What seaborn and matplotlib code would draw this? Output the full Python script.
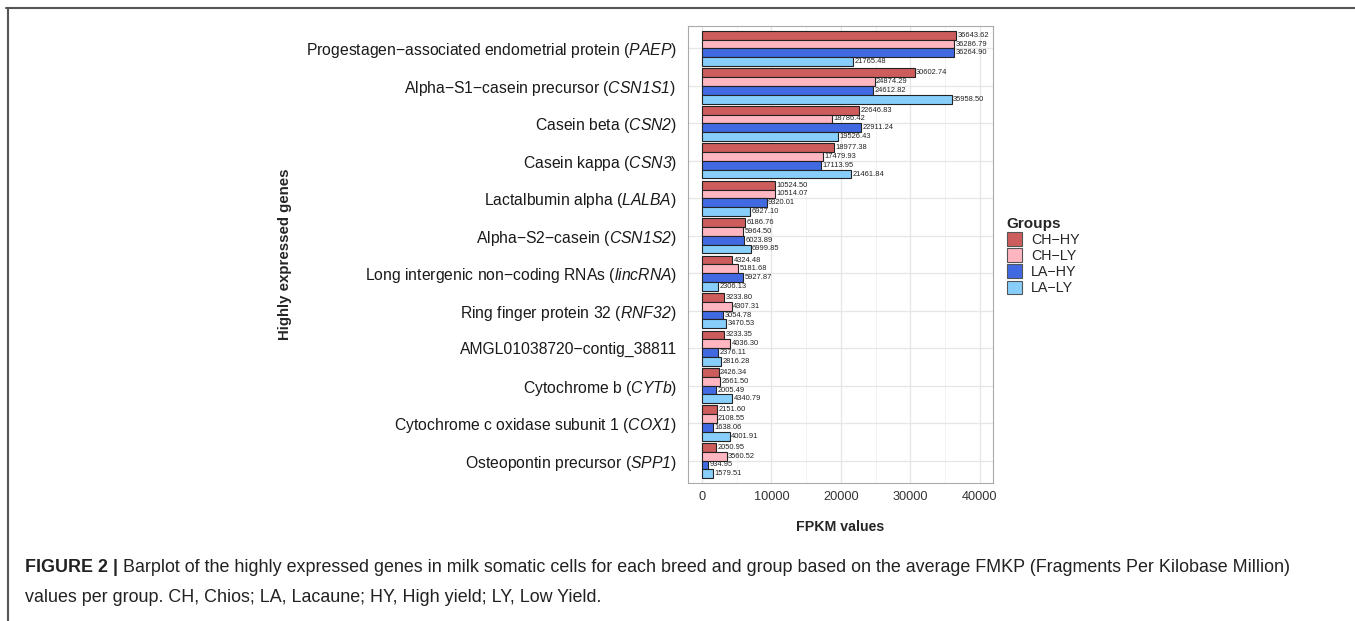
import pandas as pd
import matplotlib.pyplot as plt
import matplotlib.lines as mlines
import matplotlib.patches as mpatches
import seaborn as sns

# Gene labels (top to bottom) and mean FPKM per group
genes = [
    "Progestagen\u2212associated endometrial protein ($\\mathsf{PAEP}$)",
    "Alpha\u2212S1\u2212casein precursor ($\\mathsf{CSN1S1}$) ",
    "Casein beta ($\\mathsf{CSN2}$)",
    "Casein kappa ($\\mathsf{CSN3}$)",
    "Lactalbumin alpha ($\\mathsf{LALBA}$)",
    "Alpha\u2212S2\u2212casein ($\\mathsf{CSN1S2}$)",
    "Long intergenic non\u2212coding RNAs ($\\mathsf{lincRNA}$)",
    "Ring finger protein 32 ($\\mathsf{RNF32}$)",
    "AMGL01038720\u2212contig_38811",
    "Cytochrome b ($\\mathsf{CYTb}$)",
    "Cytochrome c oxidase subunit 1 ($\\mathsf{COX1}$)",
    "Osteopontin precursor ($\\mathsf{SPP1}$)",
]
groups = ["CH\u2212HY", "CH\u2212LY", "LA\u2212HY", "LA\u2212LY"]
ch_hy = [36643.62, 30602.74, 22646.83, 18977.38, 10524.50, 6186.76,
         4324.48, 3233.80, 3233.35, 2426.34, 2151.60, 2050.95]
ch_ly = [36286.79, 24874.29, 18786.42, 17479.93, 10514.07, 5964.50,
         5181.68, 4307.31, 4036.30, 2661.50, 2108.55, 3560.52]
la_hy = [36264.90, 24612.82, 22911.24, 17113.95, 9320.01, 6023.89,
         5927.87, 3054.78, 2376.11, 2005.49, 1638.06, 934.95]
la_ly = [21765.48, 35958.50, 19526.43, 21461.84, 6927.10, 6999.85,
         2306.13, 3470.53, 2816.28, 4340.79, 4001.91, 1579.51]
colors = ["#CD5C5C", "#FFB6C1", "#4169E1", "#87CEFA"]

df = pd.DataFrame({"Gene": genes, groups[0]: ch_hy, groups[1]: ch_ly,
                   groups[2]: la_hy, groups[3]: la_ly})
df_long = df.melt(id_vars="Gene", var_name="Group", value_name="FPKM")

sns.set_theme(style="whitegrid")
plt.rcParams["font.family"] = ["Liberation Sans", "DejaVu Sans"]
plt.rcParams["mathtext.fontset"] = "custom"
plt.rcParams["mathtext.rm"] = "Liberation Sans"
plt.rcParams["mathtext.sf"] = "Liberation Sans:italic"

fig = plt.figure(figsize=(13.55, 6.21), dpi=100)
ax = fig.add_axes([688 / 1355, 1 - 483 / 621, (993 - 688) / 1355, (483 - 26) / 621])

sns.barplot(data=df_long, y="Gene", x="FPKM", hue="Group", order=genes,
            hue_order=groups, palette=colors, orient="h", width=0.94,
            edgecolor="#222222", linewidth=0.8, saturation=1, ax=ax,
            legend=False)

for c in ax.containers:
    ax.bar_label(c, fmt="%.2f", padding=1, fontsize=5.4, color="#222222")

ax.set_xlim(-2000, 41900)
ax.set_ylim(len(genes) - 0.4, -0.6)
ax.set_xticks([0, 10000, 20000, 30000, 40000])
ax.set_xticks([5000, 15000, 25000, 35000], minor=True)
ax.grid(True, which="major", color="#E6E6E6", linewidth=0.9)
ax.grid(True, which="minor", axis="x", color="#F0F0F0", linewidth=0.6)
ax.set_axisbelow(True)
for s in ax.spines.values():
    s.set_color("#AAAAAA")
    s.set_linewidth(0.8)

ax.tick_params(axis="both", which="major", length=3, color="#666666",
               width=0.8, pad=3)
ax.tick_params(axis="y", labelsize=11.3, labelcolor="#1a1a1a", pad=5)
ax.tick_params(axis="x", labelsize=9.2, labelcolor="#333333")
ax.tick_params(which="minor", length=0)

ax.set_xlabel("FPKM values", fontsize=10.2, fontweight="bold", labelpad=12)
ax.set_ylabel("Highly expressed genes", fontsize=10.8, fontweight="bold",
              labelpad=10)

handles = [mpatches.Patch(facecolor=col, edgecolor="#555555", linewidth=0.8,
                          label=g) for g, col in zip(groups, colors)]
leg = fig.legend(handles=handles, title="Groups", loc="upper left",
                 bbox_to_anchor=(1001 / 1355, 1 - 211 / 621), frameon=False,
                 fontsize=10.3, title_fontproperties={"weight": "bold", "size": 11},
                 handlelength=1.1, handleheight=1.1, labelspacing=0.1,
                 handletextpad=0.6, borderaxespad=0)
leg._legend_box.align = "left"

# figure frame as in the journal page
fig.add_artist(mlines.Line2D([6 / 1355, 1], [1 - 8 / 621, 1 - 8 / 621],
                             color="#555555", linewidth=1.5))
fig.add_artist(mlines.Line2D([8 / 1355, 8 / 1355], [0, 1 - 8 / 621],
                             color="#555555", linewidth=1.5))

# caption
fig.canvas.draw()
renderer = fig.canvas.get_renderer()
t1 = fig.text(25 / 1355, 1 - 568 / 621, "FIGURE 2 | ", fontsize=12.9,
              fontweight="bold", color="#222222", va="center")
bb = t1.get_window_extent(renderer=renderer)
fig.text(bb.x1 / fig.bbox.width, 1 - 568 / 621,
         "Barplot of the highly expressed genes in milk somatic cells for each breed and group "
         "based on the average FMKP (Fragments Per Kilobase Million)",
         fontsize=12.9, color="#222222", va="center")
fig.text(25 / 1355, 1 - 598 / 621,
         "values per group. CH, Chios; LA, Lacaune; HY, High yield; LY, Low Yield.",
         fontsize=12.9, color="#222222", va="center")

fig.savefig("out.png", dpi=100)
